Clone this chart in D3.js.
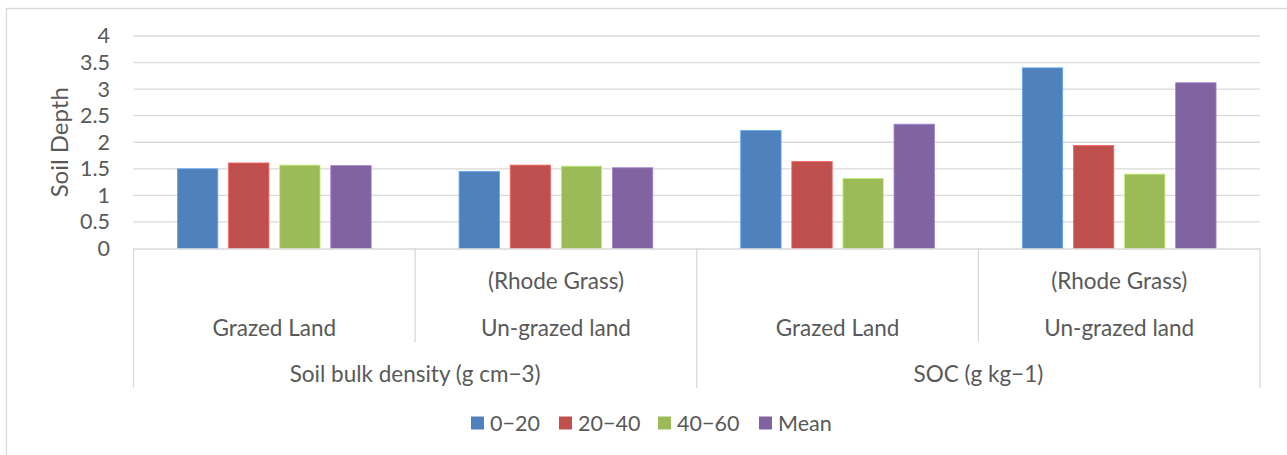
<!DOCTYPE html>
<html>
<head>
<meta charset="utf-8">
<script src="https://cdn.jsdelivr.net/npm/d3@7"></script>
<style>
  html, body { margin: 0; padding: 0; background: #fff; }
  svg { display: block; }
  text { font-family: Lato, "Open Sans", sans-serif; fill: #595959; }
</style>
</head>
<body>
<svg id="chart" width="1287" height="455"></svg>
<script>
// ---- data ----
const groups = ["Soil bulk density (g cm\u22123)", "SOC (g kg\u22121)"];
const categories = ["Grazed Land", "Un-grazed land", "Grazed Land", "Un-grazed land"];
const subLabels = ["", "(Rhode Grass)", "", "(Rhode Grass)"];
const categoryGroup = [0, 0, 1, 1];
const seriesNames = ["0\u221220", "20\u221240", "40\u221260", "Mean"];
const s0_20  = [1.50, 1.45, 2.22, 3.40];
const s20_40 = [1.61, 1.57, 1.64, 1.94];
const s40_60 = [1.57, 1.55, 1.32, 1.40];
const sMean  = [1.56, 1.52, 2.34, 3.12];
const yTicks = [0, 0.5, 1, 1.5, 2, 2.5, 3, 3.5, 4];
const yTickLabels = ["0", "0.5", "1", "1.5", "2", "2.5", "3", "3.5", "4"];
const colors = ["#4F81BD", "#C0504D", "#9BBB59", "#8064A2"];
const yTitle = "Soil Depth";

const series = [s0_20, s20_40, s40_60, sMean];

const svg = d3.select("#chart");
const FS = 21.5;
const FC = 22.5;
const grid = "#d9d9d9";

// chart border
svg.append("rect").attr("x", 6.5).attr("y", 8.5).attr("width", 1400).attr("height", 600)
  .attr("fill", "none").attr("stroke", grid).attr("stroke-width", 1.3);

const pL = 133.5, pR = 1260, pT = 36, pB = 248.5;
const idx = d3.range(categories.length);
const x0 = d3.scaleBand().domain(idx).range([pL, pR]).padding(0);
const x1 = d3.scaleBand().domain(d3.range(series.length)).range([0, x0.bandwidth()])
  .paddingInner(0.21).paddingOuter(0.86);
const y = d3.scaleLinear().domain([0, 4]).range([pB, pT]);

// gridlines
svg.append("g").selectAll("line").data(yTicks.filter(d => d > 0)).join("line")
  .attr("x1", pL).attr("x2", pR)
  .attr("y1", d => y(d)).attr("y2", d => y(d))
  .attr("stroke", grid).attr("stroke-width", 1.3);

// y axis labels
const yAxis = d3.axisLeft(y).tickValues(yTicks).tickFormat((d, i) => yTickLabels[i]).tickSize(0).tickPadding(0);
const ya = svg.append("g").attr("transform", `translate(110,0)`).call(yAxis);
ya.select(".domain").remove();
ya.selectAll("text").style("font-family", "Lato, 'Open Sans', sans-serif").style("font-size", FS + "px").attr("fill", "#595959");

// y title
svg.append("text").attr("transform", `translate(58,${(pT + pB) / 2}) rotate(-90)`)
  .attr("text-anchor", "middle").attr("dominant-baseline", "central")
  .style("font-size", "24px").text(yTitle);

// bars
const bars = svg.append("g");
series.forEach((s, si) => {
  bars.selectAll(null).data(idx).join("rect")
    .attr("x", i => x0(i) + x1(si))
    .attr("width", x1.bandwidth())
    .attr("y", i => y(s[i]))
    .attr("height", i => pB - y(s[i]))
    .attr("fill", colors[si])
    .attr("stroke", d3.color(colors[si]).brighter(0.7))
    .attr("stroke-width", 0.8);
});

// category axis lines
svg.append("line").attr("x1", pL).attr("x2", pR).attr("y1", pB + 0.5).attr("y2", pB + 0.5)
  .attr("stroke", grid).attr("stroke-width", 1.3);
const outerEdges = [pL, x0(2), pR];
svg.append("g").selectAll("line").data(outerEdges).join("line")
  .attr("x1", d => d).attr("x2", d => d).attr("y1", pB).attr("y2", 388)
  .attr("stroke", grid).attr("stroke-width", 1.3);
const innerEdges = [x0(1), x0(3)];
svg.append("g").selectAll("line").data(innerEdges).join("line")
  .attr("x1", d => d).attr("x2", d => d).attr("y1", pB).attr("y2", 342)
  .attr("stroke", grid).attr("stroke-width", 1.3);

// category labels
svg.append("g").selectAll("text").data(idx).join("text")
  .attr("x", i => x0(i) + x0.bandwidth() / 2).attr("y", 327)
  .attr("text-anchor", "middle").attr("dominant-baseline", "central")
  .style("font-size", FC + "px").text(i => categories[i]);
svg.append("g").selectAll("text").data(idx.filter(i => subLabels[i])).join("text")
  .attr("x", i => x0(i) + x0.bandwidth() / 2).attr("y", 280)
  .attr("text-anchor", "middle").attr("dominant-baseline", "central")
  .style("font-size", FC + "px").text(i => subLabels[i]);
svg.append("g").selectAll("text").data(groups).join("text")
  .attr("x", (g, gi) => {
    const cs = idx.filter(i => categoryGroup[i] === gi);
    return (x0(cs[0]) + x0(cs[cs.length - 1]) + x0.bandwidth()) / 2;
  })
  .attr("y", 373).attr("text-anchor", "middle").attr("dominant-baseline", "central")
  .style("font-size", FC + "px").text(g => g);

// legend
const legendX = [471, 559, 658, 759];
const lg = svg.append("g").selectAll("g").data(seriesNames).join("g")
  .attr("transform", (d, i) => `translate(${legendX[i]},423)`);
lg.append("rect").attr("x", 0).attr("y", -6.5).attr("width", 13).attr("height", 13)
  .attr("fill", (d, i) => colors[i]);
lg.append("text").attr("x", 19).attr("y", 0).attr("dominant-baseline", "central")
  .style("font-size", FS + "px").text(d => d);
</script>
</body>
</html>
